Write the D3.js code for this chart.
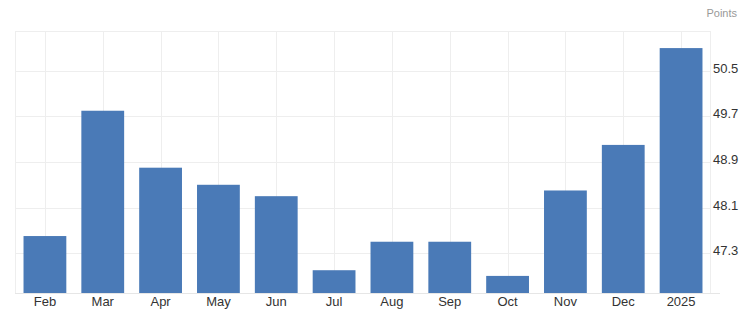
<!DOCTYPE html>
<html><head><meta charset="utf-8">
<script src="https://cdn.jsdelivr.net/npm/d3@7"></script>
<style>body{margin:0;background:#fff;}svg{display:block;font-family:Arial,"Liberation Sans",sans-serif;}</style>
</head><body>
<script>
const categories = ["Feb","Mar","Apr","May","Jun","Jul","Aug","Sep","Oct","Nov","Dec","2025"];
const values = [47.6,49.8,48.8,48.5,48.3,47.0,47.5,47.5,46.9,48.4,49.2,50.9];
const yTicks = [47.3,48.1,48.9,49.7,50.5];
const unitLabel = "Points";

(function(){
const W=749,H=319;
const pL=15,pR=710,pT=31,pB=293;
const svg=d3.select("body").append("svg").attr("width",W).attr("height",H);
const x=d3.scaleBand().domain(categories).range([pL+1,pR]).paddingInner(0.26).paddingOuter(0.13);
const y=d3.scaleLinear().domain([46.6,51.2]).range([pB,pT]);

const g=svg.append("g");
g.selectAll("line.h").data(yTicks).join("line").attr("class","h")
  .attr("x1",pL).attr("x2",pR).attr("y1",d=>Math.round(y(d))+0.5).attr("y2",d=>Math.round(y(d))+0.5)
  .attr("stroke","#eeeeee").attr("stroke-width",1);
g.selectAll("line.v").data(categories).join("line").attr("class","v")
  .attr("x1",d=>Math.round(x(d)+x.bandwidth()/2)+0.5).attr("x2",d=>Math.round(x(d)+x.bandwidth()/2)+0.5).attr("y1",pT).attr("y2",pB)
  .attr("stroke","#eeeeee").attr("stroke-width",1);
g.append("line").attr("x1",pL).attr("x2",pR).attr("y1",pT+0.5).attr("y2",pT+0.5).attr("stroke","#eeeeee");
g.append("line").attr("x1",pL+0.5).attr("x2",pL+0.5).attr("y1",pT).attr("y2",pB).attr("stroke","#eeeeee");
g.append("line").attr("x1",pR+0.5).attr("x2",pR+0.5).attr("y1",pT).attr("y2",pB).attr("stroke","#eeeeee");

svg.append("g").selectAll("rect").data(values).join("rect")
  .attr("x",(d,i)=>x(categories[i]))
  .attr("width",x.bandwidth())
  .attr("y",d=>y(d))
  .attr("height",d=>pB-y(d))
  .attr("fill","#4a7ab7");

svg.append("line").attr("x1",pL).attr("x2",720).attr("y1",pB+0.5).attr("y2",pB+0.5).attr("stroke","#e6e6e6");

const xa=svg.append("g").attr("transform",`translate(0,${pB})`)
  .call(d3.axisBottom(x).tickSize(0).tickPadding(4));
xa.select(".domain").remove();
xa.selectAll("text").attr("font-size",13).attr("fill","#333").attr("font-family","Arial,'Liberation Sans',sans-serif");

const ya=svg.append("g").attr("transform",`translate(${pR},0)`)
  .call(d3.axisRight(y).tickValues(yTicks).tickFormat(d3.format(".1f")).tickSize(0).tickPadding(3));
ya.select(".domain").remove();
ya.selectAll("text").attr("font-size",13).attr("fill","#333").attr("dy","0.12em").attr("font-family","Arial,'Liberation Sans',sans-serif");

svg.append("text").attr("x",737).attr("y",17).attr("text-anchor","end")
  .attr("font-size",11).attr("fill","#999").attr("font-family","Arial,'Liberation Sans',sans-serif").text(unitLabel);
})();
</script>
</body></html>
